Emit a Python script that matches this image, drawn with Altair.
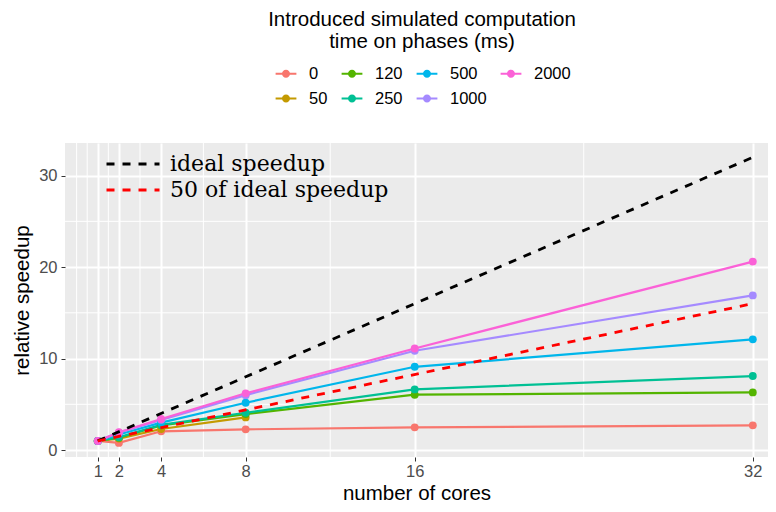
import altair as alt
import pandas as pd

cores = [1, 2, 4, 8, 16, 32]
series_names = ["0", "50", "120", "250", "500", "1000", "2000"]
s0 = [1.0, 0.78, 2.05, 2.26, 2.48, 2.7]
s50 = [1.0, 1.25, 2.3, 3.57]
s120 = [1.0, 1.35, 2.7, 3.93, 6.05, 6.3]
s250 = [1.0, 1.4, 2.75, 4.08, 6.63, 8.09]
s500 = [1.0, 1.7, 3.0, 5.17, 9.1, 12.1]
s1000 = [1.0, 1.9, 3.3, 6.0, 10.85, 16.9]
s2000 = [1.0, 1.95, 3.4, 6.2, 11.1, 20.6]
series_colors = ["#F8766D", "#C49A00", "#53B400", "#00C094", "#00B6EB", "#A58AFF", "#FB61D7"]

ideal_names = ["ideal speedup", "50 of ideal speedup"]
ideal_colors = ["black", "red"]
ideal_x = [1, 32]
ideal_full = [1, 32]
ideal_half = [1, 16]

x_minor = [0, 0.5, 1.5, 3, 6, 12, 24]
y_major = [0, 10, 20, 30]
y_minor = [5, 15, 25]

rows = []
for name, vals in zip(series_names, [s0, s50, s120, s250, s500, s1000, s2000]):
    for c, v in zip(cores, vals):
        rows.append({"cores": c, "speedup": v, "ms": name})
df = pd.DataFrame(rows)

irows = []
for name, ys in zip(ideal_names, [ideal_full, ideal_half]):
    for c, v in zip(ideal_x, ys):
        irows.append({"cores": c, "speedup": v, "kind": name})
idf = pd.DataFrame(irows)

x_scale = alt.Scale(domain=[-0.55, 32.72], nice=False, zero=False)
y_scale = alt.Scale(domain=[-0.76, 33.56], nice=False, zero=False)
x_axis = alt.Axis(values=cores, title="number of cores", labelPadding=2, titlePadding=4, labelFlush=False)
y_axis = alt.Axis(values=y_major, title="relative speedup", labelPadding=4, titlePadding=6)

X = alt.X("cores:Q", scale=x_scale, axis=x_axis)
Y = alt.Y("speedup:Q", scale=y_scale, axis=y_axis)

minor_x = alt.Chart(pd.DataFrame({"v": x_minor})).mark_rule(color="white", strokeWidth=1).encode(
    x=alt.X("v:Q", scale=x_scale, axis=x_axis)
)
minor_y = alt.Chart(pd.DataFrame({"v": y_minor})).mark_rule(color="white", strokeWidth=1).encode(
    y=alt.Y("v:Q", scale=y_scale, axis=y_axis)
)

# key glyph: short line with a dot, in a 26px wide key
sym_path = "M-0.8,-0.085H0.8V0.085H-0.8Z M0.31,0A0.31,0.31,0,1,1,-0.31,0A0.31,0.31,0,1,1,0.31,0Z"
# long dashed key for the ideal lines (twice the nominal symbol width)
dash_path = "M-2,0H2"

lines = alt.Chart(df).mark_line(strokeWidth=2.2).encode(
    x=X, y=Y,
    color=alt.Color("ms:N", scale=alt.Scale(domain=series_names, range=series_colors), legend=None),
)
points = alt.Chart(df).mark_circle(size=62, opacity=1).encode(
    x=X, y=Y,
    color=alt.Color(
        "ms:N",
        scale=alt.Scale(domain=series_names, range=series_colors),
        legend=alt.Legend(
            orient="none", legendX=203, legendY=-133, columns=4,
            title=["Introduced simulated computation", "time on phases (ms)"],
            titleAnchor="middle", titleAlign="center", titleFontSize=20.5,
            titleFont="Liberation Sans", titleFontWeight="normal", titleColor="black",
            titleLineHeight=22, titlePadding=8, titleLimit=600,
            labelFontSize=16.5, labelFont="Liberation Sans", labelColor="black", labelLimit=300,
            symbolType=sym_path, symbolSize=676, symbolStrokeWidth=0, symbolOpacity=1,
            columnPadding=11, rowPadding=3, labelOffset=10,
        ),
    ),
)
ideal = alt.Chart(idf).mark_line(strokeWidth=2.8, strokeDash=[8, 8]).encode(
    x=X, y=Y,
    color=alt.Color(
        "kind:N",
        scale=alt.Scale(domain=ideal_names, range=ideal_colors),
        legend=alt.Legend(
            orient="none", legendX=53, legendY=6, title=None,
            labelFont="DejaVu Serif", labelFontSize=22, labelColor="black", labelLimit=400,
            symbolType=dash_path, symbolSize=702, symbolStrokeWidth=2.8, symbolDash=[8, 8],
            symbolFillColor="transparent",
            rowPadding=0, labelOffset=22,
        ),
    ),
)

chart = alt.layer(minor_x, minor_y, lines, points, ideal).resolve_scale(color="independent").properties(
    width=703, height=314,
    autosize=alt.AutoSizeParams(type="none"),
    padding={"left": 57, "top": 135, "right": 0, "bottom": 47},
).configure_view(fill="#EBEBEB", stroke=None).configure_axis(
    domain=False, tickColor="#333333", tickWidth=1, tickSize=4,
    labelColor="#4D4D4D", labelFontSize=16.5, labelFont="Liberation Sans",
    titleFont="Liberation Sans", titleFontSize=20.5, titleFontWeight="normal", titleColor="black",
    gridColor="white", gridWidth=2,
)

chart.save("out.html", embed_options={"renderer": "svg", "actions": False})
